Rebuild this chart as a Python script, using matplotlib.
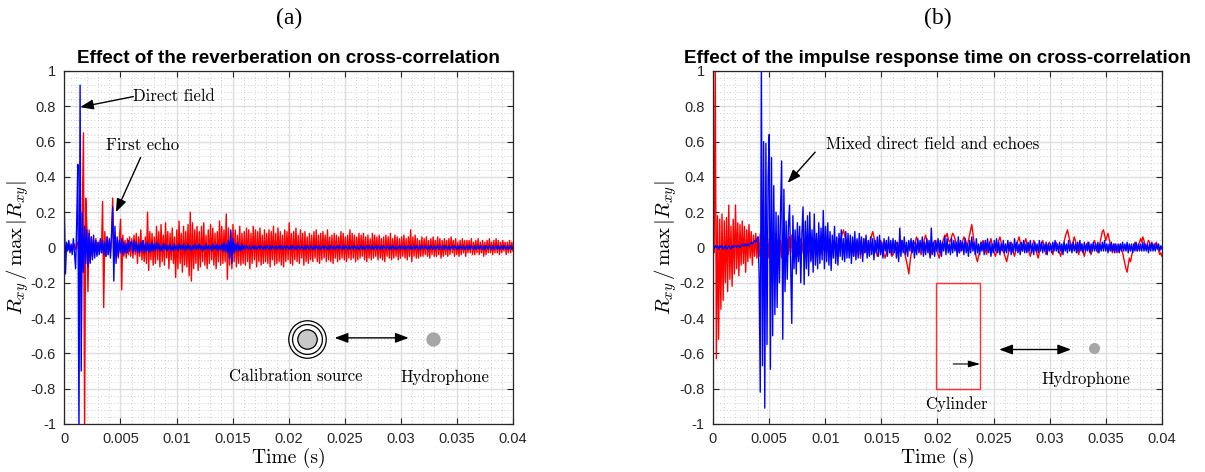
import numpy as np
import matplotlib
matplotlib.use("Agg")
import matplotlib.pyplot as plt
from matplotlib.ticker import AutoMinorLocator, FuncFormatter

plt.rcParams['mathtext.fontset'] = 'cm'
plt.rcParams['axes.unicode_minus'] = False

# values, in hundredths of R_xy / max|R_xy|,
# one row = 2 ms (20 samples, 0.1 ms apart), time runs 0 .. 0.04 s
reverb_red = [
    1, -1, 2, 0, -1, 1, -2, 1, 0, 2, -1, 1, 3, -4, 8, -12, 20, 65, -105, 28,
    12, -25, 10, -8, 6, -5, 4, -3, 5, -4, 3, -2, 4, -3, 26, -34, 9, -5, 6, -4,
    4, -3, 5, 28, -8, 6, -5, 4, -6, 5, 16, -24, 7, -5, 4, -6, 5, -4, 6, -5,
    5, -6, 7, -4, 8, -9, 6, -5, 10, -7, 4, -8, 6, -9, 20, -13, 9, -7, 8, -10,
    6, -9, 12, -7, 9, -11, 13, -8, 7, -10, 14, -6, 9, -12, 8, -7, 11, -9, 6, -17,
    10, -12, 15, -9, 8, -14, 12, -10, 9, -11, 13, -16, 20, -19, 14, -12, 10, -9, 12, -13,
    9, -11, 12, -8, 14, -10, 7, -12, 10, -9, 13, -7, 11, -10, 8, -12, 9, -8, 15, -10,
    12, -9, 10, -8, 19, -18, 11, -10, 9, -12, 13, -8, 10, -11, 7, -9, 12, -10, 8, -9,
    9, -10, 11, -8, 10, -12, 8, -9, 12, -7, 10, -11, 9, -8, 11, -10, 7, -9, 10, -8,
    8, -9, 10, -11, 9, -7, 12, -10, 8, -9, 11, -8, 9, -10, 7, -11, 10, -8, 9, -7,
    14, -9, 8, -10, 9, -7, 11, -8, 7, -9, 10, -6, 8, -10, 9, -8, 6, -9, 8, -7,
    7, -8, 9, -6, 10, -8, 7, -9, 8, -7, 9, -6, 7, -8, 10, -7, 6, -8, 7, -9,
    8, -6, 7, -8, 6, -7, 9, -6, 8, -7, 6, -8, 7, -6, 10, -7, 8, -6, 7, -8,
    6, -7, 8, -6, 7, -5, 8, -7, 6, -8, 7, -6, 5, -7, 8, -6, 7, -5, 6, -7,
    7, -6, 5, -7, 6, -8, 7, -5, 6, -6, 8, -7, 5, -6, 7, -5, 6, -7, 5, -6,
    6, -5, 7, -6, 5, -7, 6, -5, 10, -8, 6, -5, 7, -6, 5, -6, 4, -5, 6, -5,
    5, -4, 6, -5, 4, -6, 5, -4, 6, -5, 4, -5, 6, -4, 5, -6, 4, -5, 5, -4,
    4, -5, 5, -4, 6, -3, 4, -5, 5, -4, 3, -5, 4, -4, 5, -3, 4, -5, 4, -3,
    4, -3, 5, -4, 3, -4, 4, -3, 5, -4, 3, -3, 4, -5, 3, -4, 4, -3, 5, -3,
    3, -4, 4, -3, 5, -3, 4, -4, 3, -3, 4, -2, 3, -4, 3, -3, 4, -3, 3, -2,
]
reverb_blue = [
    21, -15, 3, -2, 4, -3, 2, -4, 5, -3, -12, 14, 47, -105, 92, -70, 20, -14, 12, -9,
    10, -11, 8, -9, 6, -7, 7, -6, 4, -5, 3, -4, 5, -3, 4, -4, 3, -5, 6, -4,
    5, -6, 8, 23, -19, 12, -9, 6, -5, 4, -3, 5, -4, 3, -3, 2, -3, 4, -2, 3,
    3, -3, 4, -2, 3, -3, 2, -3, 3, -2, 4, -3, 2, -2, 3, -3, 2, -2, 3, -2,
    2, -2, 3, -1, 2, -2, 1, -2, 2, -1, 2, -2, 1, -1, 2, -2, 1, -2, 2, -1,
    1, -2, 2, -1, 1, -1, 2, -2, 1, -1, 2, -1, 1, -2, 1, -1, 2, -1, 1, -1,
    2, -1, 1, -2, 1, -1, 2, -1, 1, -1, 1, -2, 2, -1, 1, -1, 2, -2, 1, -1,
    2, -2, 3, -2, 2, -3, 4, -6, 10, -9, 5, -3, 2, -2, 3, -2, 1, -2, 2, -1,
    1, -1, 1, 0, -1, 1, -1, 0, 1, -1, 1, -1, 0, 1, -1, 1, 0, -1, 1, -1,
    1, 0, -1, 1, -1, 1, 0, -1, 1, -1, 0, 1, -1, 1, -1, 0, 1, -1, 1, 0,
    -1, 1, -1, 1, 0, -1, 1, -1, 1, 0, -1, 1, 0, -1, 1, -1, 1, 0, -1, 1,
    0, -1, 1, -1, 1, 0, -1, 1, -1, 0, 1, -1, 1, 0, -1, 1, -1, 1, 0, -1,
    1, -1, 0, 1, -1, 1, 0, -1, 1, -1, 1, 0, -1, 1, -1, 0, 1, -1, 1, 0,
    -1, 1, -1, 0, 1, -1, 1, -1, 0, 1, -1, 1, 0, -1, 1, -1, 0, 1, -1, 1,
    0, -1, 1, -1, 1, 0, -1, 1, 0, -1, 1, -1, 1, 0, -1, 1, -1, 0, 1, -1,
    1, 0, -1, 1, -1, 0, 1, -1, 1, -1, 0, 1, -1, 1, 0, -1, 1, -1, 1, 0,
    -1, 1, 0, -1, 1, -1, 1, 0, -1, 1, -1, 0, 1, -1, 1, 0, -1, 1, -1, 1,
    0, -1, 1, -1, 0, 1, -1, 1, 0, -1, 1, -1, 1, 0, -1, 1, -1, 0, 1, -1,
    1, -1, 1, 0, -1, 1, -1, 0, 1, -1, 1, 0, -1, 1, -1, 1, 0, -1, 1, 0,
    -1, 1, -1, 0, 1, -1, 1, -1, 0, 1, -1, 1, 0, -1, 1, -1, 0, 1, -1, 0,
]
impulse_red = [
    2, -3, 105, -63, 18, -52, 16, -35, 19, -30, 15, -20, 17, -25, 24, -18, 12, -22, 16, -15,
    24, -12, 14, -16, 13, -10, 15, -9, 12, -14, 10, -8, 13, -6, 9, -10, 7, -5, 8, -6,
    6, -5, 8, -7, 5, -8, 6, -4, 7, -6, 5, -9, 4, -7, 6, -5, 8, -4, 5, -6,
    4, -6, 7, -5, 3, -8, 5, -4, 6, -3, 7, -5, 4, -6, 3, -5, 6, -4, 5, -3,
    3, -4, 5, -6, 2, -3, 4, -7, 5, -2, 3, -4, 6, -5, 2, -3, 5, -4, 3, -2,
    2, -3, 4, -2, 5, -4, 3, -1, 4, -3, 2, 0, 5, 3, 6, 8, 10, 7, 4, 2,
    1, -2, 3, -4, 2, -5, 1, -3, 4, -2, 3, -6, 2, -4, 5, -3, 1, -2, 3, -4,
    4, 7, 9, 6, 3, -2, -5, -3, 1, 4, 2, -1, -4, -6, -3, 0, 2, -1, -3, -5,
    -4, -2, 1, 3, 0, -3, -1, 2, 4, 1, -2, -5, -8, -11, -15, -9, -4, 0, 3, 2,
    4, 6, 3, 1, -2, -4, -1, 2, 5, 7, 4, 1, -2, -5, -3, 0, 2, 4, 1, -2,
    -4, -6, -3, 1, 3, 5, 7, 6, 8, 5, 3, 4, 6, 8, 7, 5, 3, 1, -1, -3,
    -1, 2, 4, 6, 5, 3, 1, 4, 7, 10, 13, 8, 3, -2, -6, -8, -5, -2, 1, 3,
    4, 2, -1, -4, -2, 1, 3, 5, 2, -1, -3, -5, -2, 1, 4, 6, 3, 0, -2, -4,
    -6, -8, -5, -2, 1, 3, 0, -3, -5, -2, 2, 4, 6, 3, 0, -2, 1, 3, 5, 2,
    -1, -3, -5, -2, 1, 4, 2, -1, -4, -6, -3, 0, 2, 4, 1, -2, -4, -1, 2, 3,
    1, -2, -4, -1, 2, 3, 1, -1, -3, -5, -2, 0, 3, 6, 8, 10, 7, 4, 2, -1,
    3, 6, 4, 1, -2, -4, -1, 2, 0, -3, -5, -2, 1, 3, 0, -2, -4, -1, 2, 4,
    2, -1, -3, 0, 3, 6, 9, 10, 7, 4, 6, 8, 5, 2, -1, -3, 0, 2, -1, -3,
    -2, 0, 2, -1, -3, -6, -9, -12, -14, -10, -6, -8, -5, -2, 1, 3, 0, -2, 1, 3,
    5, 3, 6, 4, 1, -1, 2, 4, 3, 0, 2, 1, -1, 2, 3, 1, -2, -4, -3, -5,
]
impulse_blue = [
    2, -1, 1, 0, 1, -1, 1, 0, 1, -1, 0, 1, -1, 0, 1, 0, -1, 1, 0, 1,
    1, 0, 1, 1, 0, 1, 2, 1, 1, 2, 1, 2, 1, 2, 3, 2, 3, 4, 3, 5,
    6, -15, -82, 105, -67, 60, -91, 59, -55, 40, 64, -69, 51, -50, 35, -38, 20, -34, 18, -20,
    20, 49, -52, 33, -25, 15, -18, 12, 24, -10, -43, 18, -12, 10, -15, 14, -8, 12, -20, 8,
    23, -21, 15, -12, 18, -16, 20, -8, 10, -14, 19, -10, 8, -12, 14, -9, 11, -7, 21, -12,
    12, -8, 14, -10, 9, -13, 7, -6, 12, -9, 6, -10, 8, -5, 10, -7, 5, -8, 9, -6,
    8, -6, 7, -9, 6, -5, 9, -7, 5, -6, 8, -4, 6, -8, 5, -3, 7, -6, 4, -5,
    6, -4, 5, -7, 4, -3, 6, -5, 7, -4, 3, -6, 5, -2, 4, -5, 6, -3, 4, -4,
    5, -3, 4, -6, 3, -8, 11, -5, 4, -3, 6, -4, 3, -5, 4, -2, 5, -3, 4, -6,
    3, -4, 5, -3, 4, -2, 6, -5, 3, -4, 5, -3, 4, -6, 11, -4, 3, -5, 4, -2,
    5, -3, 4, -5, 3, -2, 6, -4, 5, -3, 2, -4, 5, -3, 4, -2, 3, -5, 6, -3,
    4, -2, 3, -4, 5, -3, 2, -5, 4, -3, 6, -2, 3, -4, 5, -3, 2, -4, 3, -2,
    3, -4, 4, -2, 5, -3, 3, -5, 2, -3, 4, -2, 5, -3, 3, -4, 2, -2, 4, -3,
    2, -3, 4, -2, 3, -4, 2, -3, 5, -2, 3, -3, 2, -4, 3, -2, 4, -3, 2, -3,
    3, -2, 4, -3, 2, -4, 3, -2, 2, -3, 4, -2, 3, -3, 2, -2, 3, -4, 2, -2,
    2, -3, 3, -2, 4, -2, 2, -3, 3, -2, 2, -4, 3, -2, 2, -3, 4, -2, 2, -3,
    3, -2, 2, -3, 3, -2, 4, -2, 2, -3, 3, -2, 2, -2, 3, -3, 2, -2, 3, -2,
    2, -2, 3, -3, 2, -2, 3, -2, 4, -2, 2, -3, 2, -2, 3, -2, 2, -3, 2, -2,
    2, -3, 2, -2, 3, -2, 2, -2, 3, -3, 2, -2, 2, -3, 2, -2, 3, -2, 2, -2,
    2, -2, 3, -2, 2, -2, 2, -3, 2, -2, 3, -2, 2, -2, 2, -1, 2, -2, 1, -1,
]

xticks = [0, 0.005, 0.01, 0.015, 0.02, 0.025, 0.03, 0.035, 0.04]
yticks = [-1, -0.8, -0.6, -0.4, -0.2, 0, 0.2, 0.4, 0.6, 0.8, 1]

SERIF = 'cmr10'
TXT = 12


def style_axes(ax, title):
    ax.set_xlim(0, 0.04)
    ax.set_ylim(-1, 1)
    ax.set_xticks(xticks)
    ax.set_yticks(yticks)
    fmt = FuncFormatter(lambda v, p: f'{v:g}')
    ax.xaxis.set_major_formatter(fmt)
    ax.yaxis.set_major_formatter(fmt)
    ax.xaxis.set_minor_locator(AutoMinorLocator(5))
    ax.yaxis.set_minor_locator(AutoMinorLocator(5))
    ax.tick_params(which='major', direction='in', length=4, width=0.8,
                   top=True, right=True, colors='#262626',
                   labelsize=10.5, pad=6)
    ax.tick_params(which='minor', length=0)
    for lab in ax.get_xticklabels() + ax.get_yticklabels():
        lab.set_family('Liberation Sans')
    ax.grid(which='major', color='#dedede', lw=1.0)
    ax.grid(which='minor', color='#bdbdbd', lw=0.6, ls=(0, (1, 3)))
    ax.set_axisbelow(True)
    for s in ax.spines.values():
        s.set_color('#262626')
        s.set_linewidth(0.9)
    ax.set_title(title, fontsize=13.6, fontweight='bold',
                 family='Liberation Sans', pad=6)
    ax.set_xlabel('Time (s)', family=SERIF, fontsize=14, labelpad=1)
    ax.set_ylabel(r'$R_{xy}\,/\,\max\,|R_{xy}|$', fontsize=15, labelpad=0)


def arrow(ax, tail, tip, style='-|>', lw=1.0, hl=0.8, hw=0.3):
    ax.annotate('', xy=tip, xytext=tail,
                arrowprops=dict(arrowstyle=f'{style},head_length={hl},head_width={hw}',
                                color='k', lw=lw, shrinkA=0, shrinkB=0,
                                mutation_scale=10), zorder=5)


fig = plt.figure(figsize=(12.05, 4.72), dpi=100)
axa = fig.add_axes([0.0534, 0.1017, 0.3723, 0.7479])
axb = fig.add_axes([0.5917, 0.1017, 0.3726, 0.7479])

ta = np.linspace(0, 0.04, len(reverb_red))
axa.plot(ta, np.array(reverb_red) / 100, color='red', lw=1.0)
tb = np.linspace(0, 0.04, len(reverb_blue))
axa.plot(tb, np.array(reverb_blue) / 100, color='blue', lw=1.0)
style_axes(axa, 'Effect of the reverberation on cross-correlation')

tc = np.linspace(0, 0.04, len(impulse_red))
axb.plot(tc, np.array(impulse_red) / 100, color='red', lw=1.0)
td = np.linspace(0, 0.04, len(impulse_blue))
axb.plot(td, np.array(impulse_blue) / 100, color='blue', lw=1.0)
style_axes(axb, 'Effect of the impulse response time on cross-correlation')

# (a) annotations
axa.text(0.0061, 0.855, 'Direct field', family=SERIF, fontsize=TXT, va='center', zorder=6)
arrow(axa, (0.00615, 0.855), (0.0014, 0.795))
axa.text(0.0037, 0.58, 'First echo', family=SERIF, fontsize=TXT, va='center', zorder=6)
arrow(axa, (0.0068, 0.51), (0.0046, 0.20))
src = (0.0216, -0.516)
axa.plot(*src, 'o', ms=27, mfc='none', mec='k', mew=0.9, zorder=6)
axa.plot(*src, 'o', ms=21.5, mfc='none', mec='k', mew=0.9, zorder=6)
axa.plot(*src, 'o', ms=14, mfc='#c8c8c8', mec='k', mew=0.9, zorder=6)
arrow(axa, (0.0241, -0.512), (0.0307, -0.512), style='<|-|>')
axa.plot(0.0329, -0.516, 'o', ms=10.3, mfc='#a6a6a6', mec='none', zorder=6)
axa.text(0.02065, -0.73, 'Calibration source', family=SERIF, fontsize=TXT,
         ha='center', va='center', zorder=6)
axa.text(0.03397, -0.733, 'Hydrophone', family=SERIF, fontsize=TXT,
         ha='center', va='center', zorder=6)

# (b) annotations
axb.text(0.01007, 0.585, 'Mixed direct field and echoes', family=SERIF, fontsize=TXT,
         va='center', zorder=6)
arrow(axb, (0.0091, 0.54), (0.00665, 0.366))
axb.add_patch(plt.Rectangle((0.0199, -0.8), 0.0039, 0.6, fill=False,
                            ec='#ff3030', lw=1.0, zorder=6))
arrow(axb, (0.0214, -0.66), (0.0238, -0.66), lw=0.8, hl=0.7, hw=0.2)
arrow(axb, (0.0255, -0.578), (0.0319, -0.578), style='<|-|>')
axb.plot(0.03396, -0.567, 'o', ms=8, mfc='#a6a6a6', mec='none', zorder=6)
axb.text(0.0332, -0.745, 'Hydrophone', family=SERIF, fontsize=TXT,
         ha='center', va='center', zorder=6)
axb.text(0.0217, -0.886, 'Cylinder', family=SERIF, fontsize=TXT,
         ha='center', va='center', zorder=6)

fig.text(289 / 1205, 1 - 18 / 472, '(a)', family='Liberation Serif', fontsize=17,
         ha='center', va='center')
fig.text(938 / 1205, 1 - 18 / 472, '(b)', family='Liberation Serif', fontsize=17,
         ha='center', va='center')

fig.savefig('out.png', dpi=100)
